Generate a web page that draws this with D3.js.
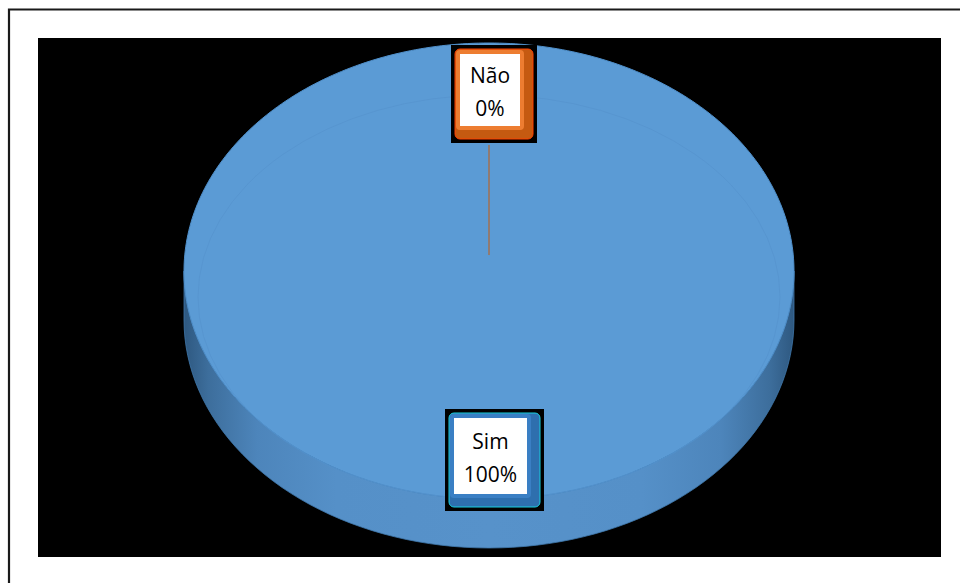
<!DOCTYPE html>
<html>
<head>
<meta charset="utf-8">
<script src="https://cdn.jsdelivr.net/npm/d3@7"></script>
<style>
  html, body { margin: 0; padding: 0; background: #fff; }
  svg { display: block; }
  text { font-family: "Open Sans", Lato, sans-serif; }
</style>
</head>
<body>
<svg id="chart" width="960" height="583"></svg>
<script>
// Survey answers
const categories = ["Sim", "Não"];
const values = [100, 0];
const percentLabels = ["100%", "0%"];

const svg = d3.select("#chart");
const W = 960, H = 583;

// outer frame (left and top edges visible) and black plot area
svg.append("rect").attr("x", 0).attr("y", 0).attr("width", W).attr("height", H).attr("fill", "#fff");
svg.append("path").attr("d", `M9,${H} L9,9.5 L${W},9.5`).attr("fill", "none")
  .attr("stroke", "#1a1a1a").attr("stroke-width", 2.2);
svg.append("rect").attr("x", 38).attr("y", 38).attr("width", 903).attr("height", 519).attr("fill", "#000");

// 3D pie geometry
const cx = 489, cy = 271, rx = 305, ry = 228, depth = 49;
const colors = { "Sim": "#5b9bd5", "Não": "#ed7d31" };
const sideColors = { "Sim": "#4a86be", "Não": "#c55a11" };

const pie = d3.pie().sort(null).value(d => d.value);
const arcs = pie(categories.map((c, i) => ({ cat: c, value: values[i], label: percentLabels[i] })));

const px = (a, k = 1) => cx + rx * k * Math.sin(a);
const py = (a, k = 1, dy = 0) => cy + dy - ry * k * Math.cos(a);

const defs = svg.append("defs");
const sideGrad = defs.append("linearGradient").attr("id", "sideGrad")
  .attr("gradientUnits", "userSpaceOnUse")
  .attr("x1", cx - rx).attr("x2", cx + rx).attr("y1", 0).attr("y2", 0);
[[0, "#2e5880"], [0.04, "#3d6e9c"], [0.12, "#4d85bb"], [0.25, "#5590c8"], [0.5, "#5792ca"], [0.75, "#5590c8"], [0.88, "#4d85bb"], [0.96, "#3d6e9c"], [1, "#2e5880"]]
  .forEach(([o, c]) => sideGrad.append("stop").attr("offset", o).attr("stop-color", c));

// side wall of each slice: only the front half (angles between π/2 and 3π/2) is visible
function sidePath(a0, a1) {
  const s = Math.max(a0, Math.PI / 2), e = Math.min(a1, 3 * Math.PI / 2);
  if (e <= s) return null;
  const n = 80;
  const top = d3.range(n + 1).map(i => s + (e - s) * i / n);
  let p = "M" + top.map(a => `${px(a)},${py(a)}`).join("L");
  p += "L" + top.slice().reverse().map(a => `${px(a)},${py(a, 1, depth)}`).join("L");
  return p + "Z";
}
function topPath(a0, a1) {
  const n = Math.max(2, Math.ceil((a1 - a0) / (Math.PI / 180)));
  const pts = d3.range(n + 1).map(i => a0 + (a1 - a0) * i / n);
  if (a1 - a0 >= 2 * Math.PI - 1e-9) return "M" + pts.map(a => `${px(a)},${py(a)}`).join("L") + "Z";
  return `M${cx},${cy}L` + pts.map(a => `${px(a)},${py(a)}`).join("L") + "Z";
}

arcs.forEach(d => {
  const p = sidePath(d.startAngle, d.endAngle);
  if (p) svg.append("path").attr("d", p)
    .attr("fill", d.data.cat === "Sim" ? "url(#sideGrad)" : sideColors[d.data.cat])
    .attr("stroke", "#3f77ab").attr("stroke-width", 0.8);
});
arcs.forEach(d => {
  if (d.endAngle - d.startAngle <= 0) return;
  svg.append("path").attr("d", topPath(d.startAngle, d.endAngle))
    .attr("fill", colors[d.data.cat]).attr("stroke", "#4f8fca").attr("stroke-width", 1);
});

// faint bevel highlight on the top face
svg.append("ellipse").attr("cx", cx).attr("cy", cy + 26).attr("rx", rx - 14).attr("ry", ry - 26)
  .attr("fill", "none").attr("stroke", "#5593cd").attr("stroke-width", 1).attr("opacity", 0.7);

// data labels with callout boxes
const labelBoxes = {
  "Não": { x: 455, y: 49, w: 78, h: 90, frame: "#ed7d31", shade: "#c55a11", edge: "#ff4000" },
  "Sim": { x: 449, y: 413, w: 91, h: 94, frame: "#3a7fc4", shade: "#2e6fae", edge: "#19d0e0" }
};

arcs.forEach(d => {
  const b = labelBoxes[d.data.cat];
  const mid = (d.startAngle + d.endAngle) / 2;
  // leader line for the zero slice
  if (d.data.value === 0) {
    svg.append("line").attr("x1", px(mid, 0)).attr("y1", b.y + b.h + 6)
      .attr("x2", px(mid, 0)).attr("y2", py(mid, 0.07))
      .attr("stroke", "#c55a11").attr("stroke-width", 1);
  }
  const g = svg.append("g");
  g.append("rect").attr("x", b.x - 4).attr("y", b.y - 4).attr("width", b.w + 8).attr("height", b.h + 8).attr("fill", "#000");
  g.append("rect").attr("x", b.x).attr("y", b.y).attr("width", b.w).attr("height", b.h)
    .attr("rx", 5).attr("fill", b.shade).attr("stroke", b.edge).attr("stroke-width", 1);
  g.append("rect").attr("x", b.x + 1).attr("y", b.y + 1).attr("width", b.w - 10).attr("height", b.h - 10)
    .attr("rx", 4).attr("fill", b.frame);
  const inset = 5;
  const iw = b.w - 14 - 2 * inset + 6, ih = b.h - 14 - 2 * inset + 6;
  g.append("rect").attr("x", b.x + inset).attr("y", b.y + inset)
    .attr("width", iw).attr("height", ih).attr("fill", "#fff");
  const tx = b.x + inset + iw / 2;
  const innerTop = b.y + inset;
  g.append("text").attr("x", tx).attr("y", innerTop + ih / 2 - 7)
    .attr("text-anchor", "middle").attr("font-size", 21).attr("fill", "#000").text(d.data.cat);
  g.append("text").attr("x", tx).attr("y", innerTop + ih / 2 + 26)
    .attr("text-anchor", "middle").attr("font-size", 21).attr("fill", "#000").text(d.data.label);
});
</script>
</body>
</html>
